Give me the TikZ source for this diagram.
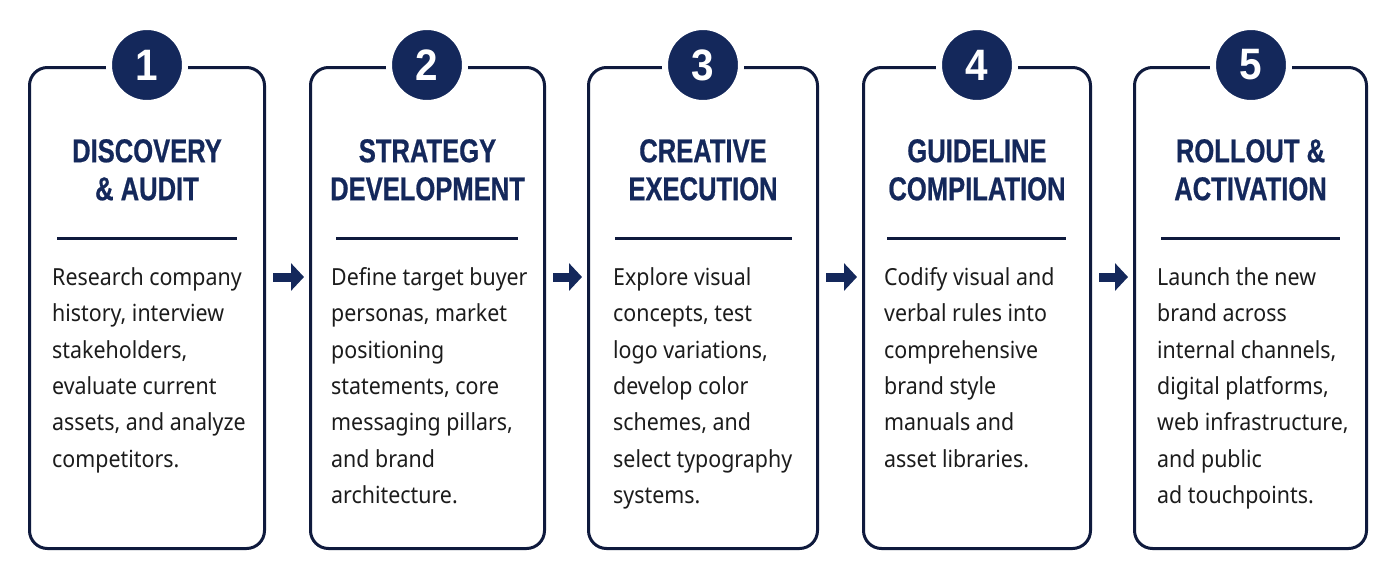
\documentclass[tikz,border=0pt]{standalone}
\usepackage{fontspec}
\setmainfont[FakeStretch=0.91]{Noto Sans}
\newfontfamily\titlefont[FakeStretch=0.775,FakeBold=0.6]{Liberation Sans}
\newfontfamily\digitfont[FakeStretch=0.92]{Liberation Sans}
\usetikzlibrary{arrows.meta}
\definecolor{navy}{HTML}{14285B}
\definecolor{edge}{HTML}{0F1A3D}
\definecolor{ink}{HTML}{1C1C1C}
\tikzset{
  stage/.style={draw=edge, line width=3pt, rounded corners=18pt, fill=white,
    minimum height=481pt, inner sep=0pt},
  badge/.style={circle, fill=navy, draw=white, line width=6pt, minimum size=76pt,
    inner sep=0pt, text=white, font=\digitfont\bfseries\fontsize{44}{44}\selectfont},
  title/.style={text=navy, align=center, anchor=north, inner sep=0pt,
    font=\titlefont\bfseries\fontsize{33}{38}\selectfont},
  body/.style={text=ink, align=left, anchor=north west, inner sep=0pt,
    font=\fontsize{23.5}{36.4}\selectfont},
  divider/.style={draw=edge, line width=3pt},
  flow/.style={draw=navy, line width=9pt, -{Triangle[length=13pt,width=27pt]}},
}
\newcommand{\fl}{\rule{0pt}{24pt}}
\newcommand{\tl}{\rule{0pt}{30pt}}
\begin{document}
\begin{tikzpicture}[x=1pt,y=-1pt]
\useasboundingbox[fill=white] (0,0) rectangle (1400,581);
% boxes
\node[stage, minimum width=235pt] (b1) at (147,308) {};
\node[stage, minimum width=234pt] (b2) at (427.5,308) {};
\node[stage, minimum width=229pt] (b3) at (703,308) {};
\node[stage, minimum width=227pt] (b4) at (977,308) {};
\node[stage, minimum width=232pt] (b5) at (1250.5,308) {};
% badges
\node[badge] (c1) at (147,65) {1};
\node[badge] (c2) at (427,65) {2};
\node[badge] (c3) at (703,65) {3};
\node[badge] (c4) at (977,65) {4};
\node[badge] (c5) at (1251,65) {5};
% titles
\node[title] (t1) at (147,132) {\tl DISCOVERY\\\& AUDIT};
\node[title] (t2) at (427.5,132) {\tl STRATEGY\\DEVELOPMENT};
\node[title] (t3) at (703,132) {\tl CREATIVE\\EXECUTION};
\node[title] (t4) at (977,132) {\tl GUIDELINE\\COMPILATION};
\node[title] (t5) at (1250.5,132) {\tl ROLLOUT \&\\ACTIVATION};
% dividers
\draw[divider] (57,238) -- (237,238);
\draw[divider] (336,238) -- (518,238);
\draw[divider] (615,238) -- (792,238);
\draw[divider] (887,238) -- (1066,238);
\draw[divider] (1161,238) -- (1340,238);
% body texts
\node[body] (d1) at (52,261) {\fl Research company\\history, interview\\stakeholders,\\evaluate current\\assets, and analyze\\competitors.};
\node[body] (d2) at (331,261) {\fl Define target buyer\\personas, market\\positioning\\statements, core\\messaging pillars,\\and brand\\architecture.};
\node[body] (d3) at (613,261) {\fl Explore visual\\concepts, test\\logo variations,\\develop color\\schemes, and\\select typography\\systems.};
\node[body] (d4) at (884,261) {\fl Codify visual and\\verbal rules into\\comprehensive\\brand style\\manuals and\\asset libraries.};
\node[body] (d5) at (1157,261) {\fl Launch the new\\brand across\\internal channels,\\digital platforms,\\web infrastructure,\\and public\\ad touchpoints.};
% arrows
\draw[flow] ([xshift=7pt,yshift=31pt]b1.east) -- ([xshift=-5pt,yshift=31pt]b2.west);
\draw[flow] ([xshift=7pt,yshift=31pt]b2.east) -- ([xshift=-5pt,yshift=31pt]b3.west);
\draw[flow] ([xshift=7pt,yshift=31pt]b3.east) -- ([xshift=-5pt,yshift=31pt]b4.west);
\draw[flow] ([xshift=7pt,yshift=31pt]b4.east) -- ([xshift=-5pt,yshift=31pt]b5.west);
\end{tikzpicture}
\end{document}
